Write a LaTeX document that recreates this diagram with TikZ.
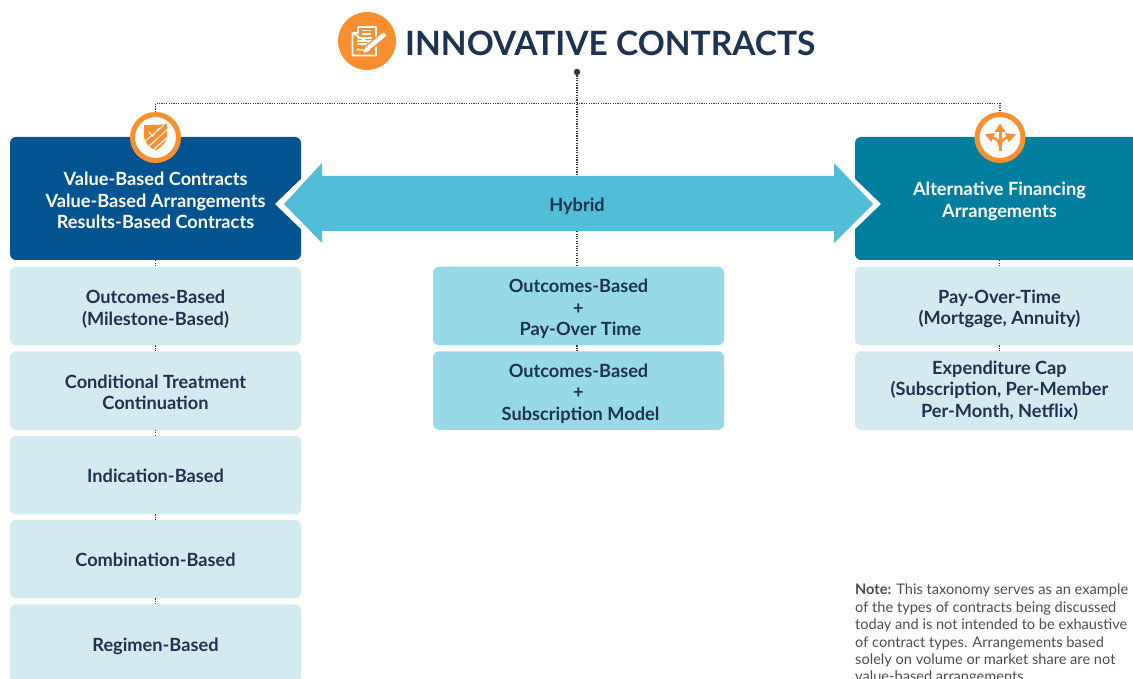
\documentclass[tikz,border=0pt]{standalone}
\usepackage{fontspec}
\setmainfont{Lato}
\usetikzlibrary{calc}
\definecolor{ink}{HTML}{1D3350}
\definecolor{orng}{HTML}{F98F2F}
\definecolor{headL}{HTML}{01548F}
\definecolor{headR}{HTML}{007E9E}
\definecolor{lite}{HTML}{D2EAF0}
\definecolor{midc}{HTML}{97D9E7}
\definecolor{arrowc}{HTML}{52BDD6}
\definecolor{dotc}{HTML}{3A3A3A}
\definecolor{notec}{HTML}{4D4D4D}
\newcommand{\dnshift}[1]{\rule{0pt}{\dimexpr 13.4pt+#1pt+#1pt\relax}}
\tikzset{
  x=1pt,y=-1pt,
  boxfont/.style={font=\fontsize{18.2}{21.5}\selectfont\bfseries},
  boxbase/.style={rectangle,rounded corners=6pt,minimum width=291pt,inner sep=0pt,align=center,text=ink,boxfont},
  litebox/.style={boxbase,fill=lite,minimum height=78.5pt},
  midbox/.style={boxbase,fill=midc,minimum height=78.5pt},
  headbox/.style={boxbase,minimum height=123pt,text=white},
  iconring/.style={circle,draw=orng,line width=5pt,fill=white,minimum size=46pt,inner sep=0pt},
  dotline/.style={draw=dotc,line width=1.1pt,dash pattern=on 1.1pt off 1.3pt},
}
\begin{document}
\begin{tikzpicture}
\useasboundingbox (0,0) rectangle (1133,679);
\clip (0,0) rectangle (1133,679);
% title
\node[circle,fill=orng,minimum size=58pt,inner sep=0pt] (logo) at (367,41) {};
\node[anchor=west,inner sep=0pt,text=ink,font=\fontsize{33.5}{36}\selectfont\bfseries] (title) at (405,43) {INNOVATIVE CONTRACTS};
% document icon in logo
\begin{scope}[draw=white,line width=1.6pt,line join=round]
\draw (358,27) -- (376,27) -- (376,37) (376,47) -- (376,55.5) -- (352.5,55.5) -- (352.5,33) -- cycle;
\draw[line width=1.1pt] (358,27.5) -- (358,33) -- (353,33);
\draw[line width=1.1pt] (362,30.5) -- (371,30.5) (362,34) -- (371,34) (357,38) -- (372,38) (357,41) -- (372,41) (357,44) -- (367,44);
\draw[line width=0.9pt] (357,51) .. controls (359,44) and (359,54) .. (361,50) .. controls (362,47) and (363,53) .. (365,50);
\draw[orng,line width=7pt] (368,48) -- (385,34);
\draw[line width=4.4pt] (368,48) -- (385,34);
\fill[white] (363.5,53) -- (365.8,46) -- (370,50.5) -- cycle;
\end{scope}
% header boxes
\node[headbox,fill=headL] (valhead) at (155.5,198.5) {\dnshift{2}Value-Based Contracts\\Value-Based Arrangements\\Results-Based Contracts};
\node[headbox,fill=headR,minimum width=289pt] (althead) at (999.5,198.5) {\dnshift{3}Alternative Financing\\Arrangements};
% left column
\node[litebox] (l1) at (155.5,306) {\dnshift{3}Outcomes-Based\\(Milestone-Based)};
\node[litebox] (l2) at (155.5,390.5) {\dnshift{2}Conditional Treatment\\Continuation};
\node[litebox] (l3) at (155.5,475) {\dnshift{1}Indication-Based};
\node[litebox] (l4) at (155.5,559) {\dnshift{1}Combination-Based};
\node[litebox] (l5) at (155.5,643.5) {\dnshift{3}Regimen-Based};
% middle column
\node[midbox] (m1) at (578.5,306) {\dnshift{3}Outcomes-Based\\+\\\hspace*{4pt}Pay-Over Time};
\node[midbox] (m2) at (578.5,390.5) {\dnshift{3}Outcomes-Based\\+\\\hspace*{4pt}Subscription Model};
% right column
\node[litebox,minimum width=289pt] (r1) at (999.5,306) {\dnshift{3}Pay-Over-Time\\(Mortgage, Annuity)};
\node[litebox,minimum width=289pt] (r2) at (999.5,390.5) {Expenditure Cap\\(Subscription, Per-Member\\Per-Month, Netflix)};
% hybrid double arrow
\fill[white] (275,204) -- (326,155) -- (326,170) -- (830,170) -- (830,155) -- (881,204) -- (830,253) -- (830,238) -- (326,238) -- (326,253) -- cycle;
\fill[arrowc] (284,204) -- (322,163) -- (322,176) -- (834,176) -- (834,163) -- (873,204) -- (834,243) -- (834,231) -- (322,231) -- (322,243) -- cycle;
\node[rectangle,inner sep=0pt,minimum width=512pt,minimum height=55pt,text=ink,boxfont] (hybrid) at (577,203.5) {\dnshift{3}Hybrid};
% icon rings
\node[iconring] (iconL) at (155.5,137.5) {};
\node[iconring] (iconR) at (1000,137.5) {};
% shield
\fill[orng] (144,125) .. controls (152,125) and (158,125) .. (167,124) -- (167,137) .. controls (166,144) and (160,148) .. (155.5,150.5) .. controls (150,148) and (144,143) .. (144,135) -- cycle;
\begin{scope}[draw=white,line width=1pt,line cap=round]
\draw (149,132) -- (152.5,136) -- (159,128);
\draw (146,140.5) -- (164,125);
\draw (149,146) -- (168,129);
\draw[line width=1.2pt] (153,150) -- (168,137);
\end{scope}
% forked arrows
\begin{scope}[orng]
\draw[orng,line width=3pt] (1000,151) -- (1000,130);
\fill (1000,123.5) -- (1005.5,132) -- (994.5,132) -- cycle;
\draw[orng,line width=2.4pt] (1000,147) .. controls (1000,141) and (996,138) .. (990,136.5);
\draw[orng,line width=2.4pt] (1000,147) .. controls (1000,141) and (1004,138) .. (1010,136.5);
\fill (985,134.5) -- (995,133) -- (991.5,142) -- cycle;
\fill (1016,134.5) -- (1005,133) -- (1008.5,142) -- cycle;
\end{scope}
% connectors
\node[circle,fill=dotc,minimum size=6.5pt,inner sep=0pt] (dot) at (577,72) {};
\coordinate (bus) at (577,103.5);
\draw[dotline] (dot) -- (hybrid.north);
\draw[dotline] (iconL.north) |- (bus) -| (iconR.north);
\draw[dotline] (hybrid.south) -- (hybrid.south |- m1.north);
\draw[dotline] (hybrid.south |- m1.south) -- (hybrid.south |- m2.north);
\draw[dotline] (valhead.south) -- (l1.north);
\draw[dotline] (l1.south) -- (l2.north);
\draw[dotline] (l2.south) -- (l3.north);
\draw[dotline] (l3.south) -- (l4.north);
\draw[dotline] (l4.south) -- (l5.north);
\draw[dotline] (althead.south) -- (r1.north);
\draw[dotline] (r1.south) -- (r2.north);
% note
\node[anchor=north west,inner sep=0pt,align=left,text=notec,font=\fontsize{14.6}{17.4}\selectfont] (note) at (855,584) {\textbf{Note:} This taxonomy serves as an example\\of the types of contracts being discussed\\today and is not intended to be exhaustive\\of contract types. Arrangements based\\solely on volume or market share are not\\value-based arrangements.};
\end{tikzpicture}
\end{document}
